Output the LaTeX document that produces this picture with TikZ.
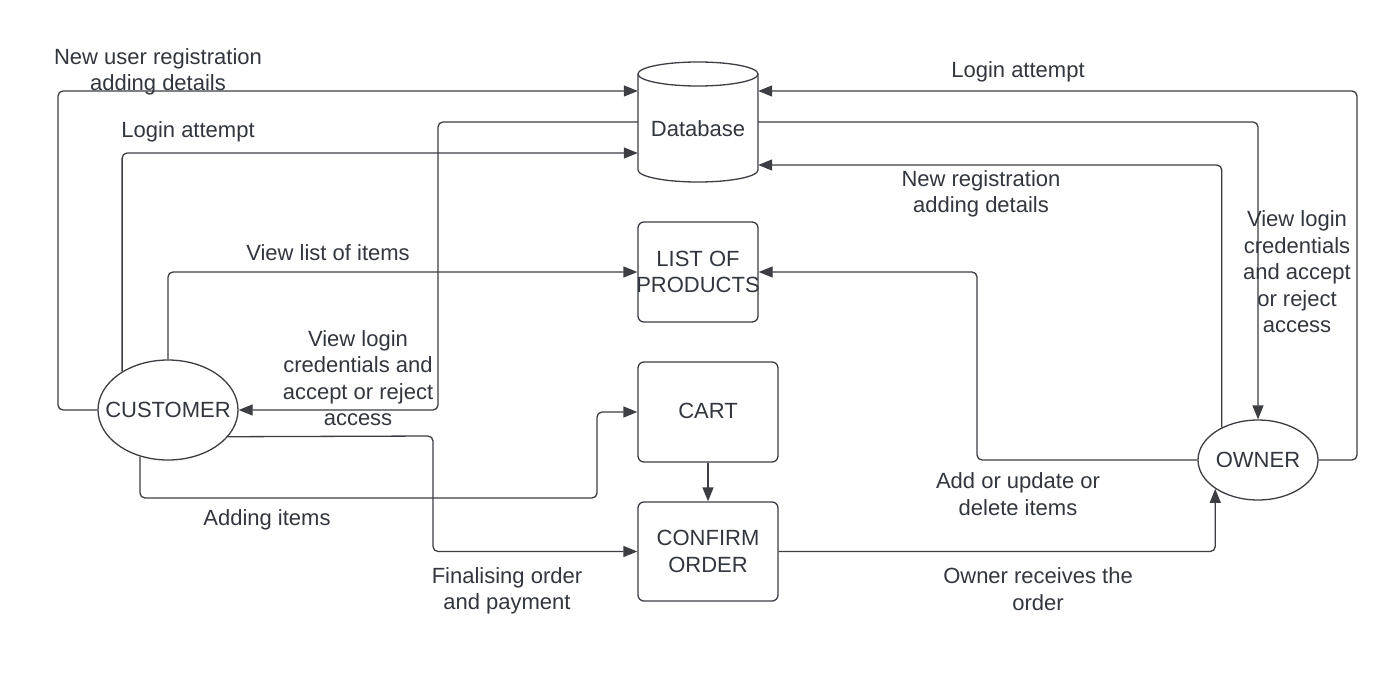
\documentclass[tikz,border=0pt]{standalone}
\usepackage{fontspec}
\setmainfont{Liberation Sans}
\usetikzlibrary{arrows.meta,shapes.geometric}
\definecolor{ink}{RGB}{50,54,62}
\definecolor{ln}{RGB}{60,62,68}
\begin{document}
\begin{tikzpicture}[x=1pt,y=-1pt,
  every node/.style={text=ink, font=\fontsize{22}{26.5}\selectfont},
  conn/.style={draw=ln, line width=1.3pt, rounded corners=5pt},
  arr/.style={conn, -{Triangle[length=14pt,width=11pt]}},
  box/.style={draw=ln, line width=1.3pt, rounded corners=6pt, inner sep=0pt, align=center},
  actor/.style={draw=ln, line width=1.3pt, ellipse, inner sep=0pt},
  lbl/.style={align=center, inner sep=0pt}]
\useasboundingbox (0,0) rectangle (1399,687);
\fill[white] (0,0) rectangle (1399,687);

% Database cylinder
\node[minimum width=120pt, minimum height=120pt, inner sep=0pt, text height=34pt, text depth=4.6pt] (db) at (698,122) {Database};
\draw[ln, line width=1.3pt] (698,74) ellipse [x radius=60pt, y radius=12pt];
\draw[ln, line width=1.3pt] (638,74) -- (638,170) arc[start angle=180, end angle=360, x radius=60pt, y radius=12pt] -- (758,74);

% Boxes
\node[box, minimum width=120pt, minimum height=100pt] (prod) at (698,272) {\makebox[0pt]{LIST OF}\\\makebox[0pt]{PRODUCTS}};
\node[box, minimum width=140pt, minimum height=100pt] (cart) at (708,412) {\raisebox{2pt}{CART}};
\node[box, minimum width=140pt, minimum height=99pt] (conf) at (708,551.5) {CONFIRM\\ORDER};

% Actors
\node[actor, minimum width=140pt, minimum height=100pt] (cust) at (168,410) {\makebox[0pt]{CUSTOMER}};
\node[actor, minimum width=120pt, minimum height=80pt] (owner) at (1258,460) {\makebox[0pt]{OWNER}};

% Connectors
\draw[arr] (cust.west) -- (58,410) -- (58,91) -- ([yshift=31pt]db.west);
\draw[arr] (cust.140) |- ([yshift=-31pt]db.west);
\draw[arr] (cust.north) |- (prod.west);
\draw[arr] (db.west) -- (438,122) -- (438,410) -- (cust.east);
\draw[arr] (cust.239) -- (140,498) -- (597,498) -- (597,412) -- (cart.west);
\draw[arr] (cust.-24) -- (433,436) -- (433,551.5) -- (conf.west);
\draw[arr] (cart.south) -- (conf.north);
\draw[arr] (conf.east) -| (owner.214);
\draw[arr] (owner.east) -- (1357,460) -- (1357,91) -- ([yshift=31pt]db.east);
\draw[arr] (db.east) -| (owner.north);
\draw[arr] (owner.138) |- ([yshift=-43pt]db.east);
\draw[arr] (owner.west) -- (977,460) -- (977,272) -- (prod.east);

% Labels
\node[lbl] (t1) at (158,72) {New user registration\\adding details};
\node[lbl] (t2) at (188,132) {Login attempt};
\node[lbl] (t3) at (328,253) {View list of items};
\node[lbl] (t4) at (358,378) {View login\\credentials and\\accept or reject\\access};
\node[lbl] (t5) at (267,520) {Adding items};
\node[lbl] (t6) at (507,591) {Finalising order\\and payment};
\node[lbl] (t7) at (1018,72) {Login attempt};
\node[lbl] (t8) at (981,194) {New registration\\adding details};
\node[lbl] (t9) at (1297,272) {View login\\credentials\\and accept\\or reject\\access};
\node[lbl] (t10) at (1018,494) {Add or update or\\delete items};
\node[lbl] (t11) at (1038,589) {Owner receives the\\order};
\end{tikzpicture}
\end{document}
